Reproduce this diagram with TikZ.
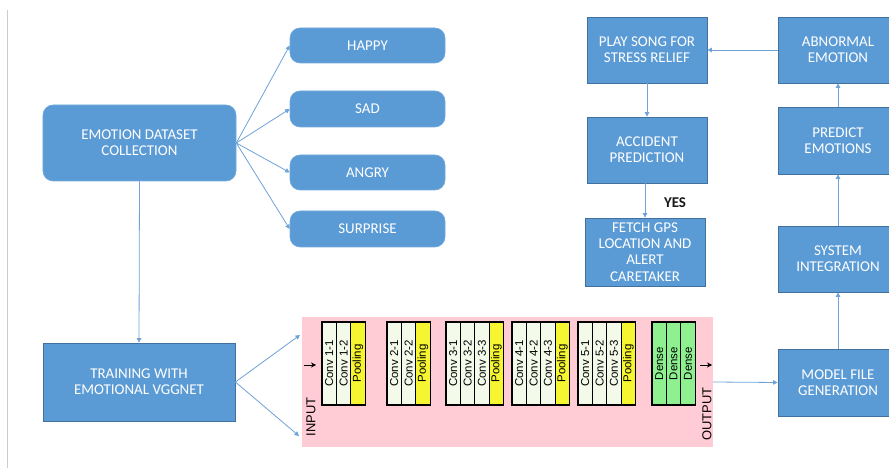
\documentclass[tikz,border=0pt]{standalone}
\usepackage{fontspec}
\setmainfont{Carlito}
\newfontfamily\arialf{Liberation Sans}
\usetikzlibrary{arrows.meta}
\definecolor{boxblue}{HTML}{5B9BD5}
\definecolor{boxedge}{HTML}{41719C}
\definecolor{linkblue}{HTML}{6FA3D8}
\definecolor{vggpink}{HTML}{FFCBD5}
\definecolor{convfill}{HTML}{F4FAEA}
\definecolor{poolfill}{HTML}{F5F532}
\definecolor{densefill}{HTML}{8EF08E}
\begin{document}
\begin{tikzpicture}[x=1bp,y=-1bp,
  txt/.style={text=white, align=center, inner sep=0pt, font=\fontsize{15}{16.4}\selectfont},
  rbox/.style={txt, rounded corners=10bp, fill=boxblue, draw=boxblue!85!white, line width=0.6bp},
  sbox/.style={txt, fill=boxblue, draw=boxedge, line width=0.8bp},
  link/.style={draw=linkblue, line width=0.8bp, -{Triangle[length=4.5bp,width=4.5bp]}},
  col/.style={draw=black, line width=1.1bp, rotate=90, minimum width=83bp, minimum height=14.4bp, inner sep=0pt, font=\arialf\fontsize{11.5}{12}\selectfont},
  blk/.style={-{Stealth[length=5bp,width=5bp]}, line width=0.8bp, black},
  vlab/.style={rotate=90, font=\arialf\fontsize{13}{14}\selectfont, text=black, inner sep=0pt}]
\fill[white] (0,0) rectangle (889,468);
\useasboundingbox (0,0) rectangle (889,468);
\draw[black!20, line width=0.8bp] (7,10) -- (7,468);

% left part
\node[rbox, minimum width=193bp, minimum height=76bp] (emo) at (139.5,143) {EMOTION DATASET\\COLLECTION};
\node[rbox, minimum width=155bp, minimum height=35bp] (happy) at (367.5,45.5) {HAPPY};
\node[rbox, minimum width=155bp, minimum height=36bp] (sad) at (367.5,109) {SAD};
\node[rbox, minimum width=155bp, minimum height=35bp] (angry) at (367.5,172.5) {ANGRY};
\node[rbox, minimum width=155bp, minimum height=36bp] (surprise) at (367.5,229) {SURPRISE};
\node[sbox, minimum width=192bp, minimum height=78bp] (train) at (139,382) {TRAINING WITH\\EMOTIONAL VGGNET};

% right part
\node[sbox, minimum width=120bp, minimum height=66bp] (play) at (647,50) {PLAY SONG FOR\\STRESS RELIEF};
\node[sbox, minimum width=120bp, minimum height=66bp] (abn) at (838,50) {ABNORMAL\\EMOTION};
\node[sbox, minimum width=120bp, minimum height=66bp] (acc) at (647,150) {ACCIDENT\\PREDICTION};
\node[sbox, minimum width=120bp, minimum height=68bp] (gps) at (645,252) {FETCH GPS\\LOCATION AND\\ALERT\\CARETAKER};
\node[sbox, minimum width=120bp, minimum height=67bp] (pred) at (838,140.5) {PREDICT\\EMOTIONS};
\node[sbox, minimum width=120bp, minimum height=66bp] (sys) at (838,259) {SYSTEM\\INTEGRATION};
\node[sbox, minimum width=120bp, minimum height=67bp] (model) at (838,382.5) {MODEL FILE\\GENERATION};
\node[font=\bfseries\fontsize{15}{16}\selectfont, text=black!90, inner sep=0pt] (yes) at (675,203) {YES};

% VGG panel
\node[fill=vggpink, minimum width=411bp, minimum height=130bp, inner sep=0pt] (vgg) at (507.5,382) {};
\foreach \x/\t/\c/\n in {
  329.2/Conv 1-1/convfill/c11, 343.6/Conv 1-2/convfill/c12, 358.0/Pooling/poolfill/p1,
  394.2/Conv 2-1/convfill/c21, 408.6/Conv 2-2/convfill/c22, 423.0/Pooling/poolfill/p2,
  453.2/Conv 3-1/convfill/c31, 467.6/Conv 3-2/convfill/c32, 482.0/Conv 3-3/convfill/c33, 496.4/Pooling/poolfill/p3,
  519.2/Conv 4-1/convfill/c41, 533.6/Conv 4-2/convfill/c42, 548.0/Conv 4-3/convfill/c43, 562.4/Pooling/poolfill/p4,
  585.2/Conv 5-1/convfill/c51, 599.6/Conv 5-2/convfill/c52, 614.0/Conv 5-3/convfill/c53, 628.4/Pooling/poolfill/p5,
  659.2/Dense/densefill/d1, 673.6/Dense/densefill/d2, 688.0/Dense/densefill/d3}
  \node[col, fill=\c] (\n) at (\x,363.5) {\t};
\node[vlab] (inlab) at (311,417) {INPUT};
\node[vlab] (outlab) at (707,414) {OUTPUT};
\coordinate (ia) at (304,365);
\coordinate (ib) at (316,365);
\coordinate (oa) at (700,365);
\coordinate (ob) at (712,365);
\draw[blk] (ia) -- (ib);
\draw[blk] (oa) -- (ob);

% connectors
\coordinate (in1) at (300,335);
\coordinate (in2) at (299,436);
\draw[link] (emo.east) -- (happy.west);
\draw[link] (emo.east) -- (sad.west);
\draw[link] (emo.east) -- (angry.west);
\draw[link] (emo.east) -- (surprise.west);
\draw[link] (emo.south) -- (train.north);
\draw[link] (train.east) -- (in1);
\draw[link] (train.east) -- (in2);
\draw[link] (vgg.east) -- (model.west);
\draw[link] (model.north) -- (sys.south);
\draw[link] (sys.north) -- (pred.south);
\draw[link] (pred.north) -- (abn.south);
\draw[link] (abn.west) -- (play.east);
\draw[link] (play.south) -- (acc.north);
\draw[link] (gps.north |- acc.south) -- (gps.north);
\end{tikzpicture}
\end{document}
